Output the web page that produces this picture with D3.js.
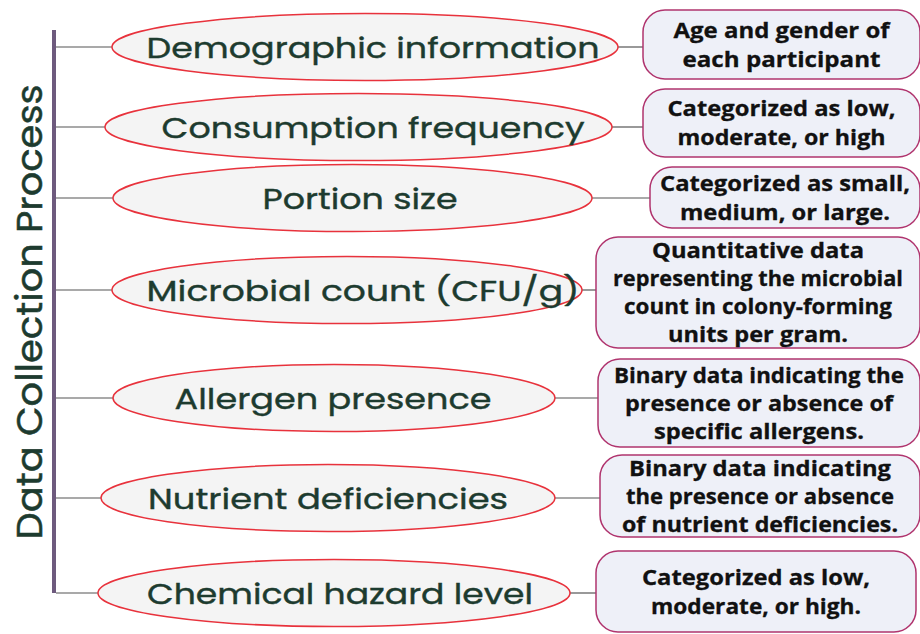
<!DOCTYPE html>
<html>
<head>
<meta charset="utf-8">
<script src="https://cdn.jsdelivr.net/npm/d3@7"></script>
<style>
  body { margin: 0; background: #fff; }
  svg { display: block; }
</style>
</head>
<body>
<svg id="chart"></svg>
<script>
// data
var title = 'Data Collection Process'
var categories = [
  'Demographic information',
  'Consumption frequency',
  'Portion size',
  'Microbial count (CFU/g)',
  'Allergen presence',
  'Nutrient deficiencies',
  'Chemical hazard level'
]
var descriptions = [
  ['Age and gender of', 'each participant'],
  ['Categorized as low,', 'moderate, or high'],
  ['Categorized as small,', 'medium, or large.'],
  ['Quantitative data', 'representing the microbial', 'count in colony-forming', 'units per gram.'],
  ['Binary data indicating the', 'presence or absence of', 'specific allergens.'],
  ['Binary data indicating', 'the presence or absence', 'of nutrient deficiencies.'],
  ['Categorized as low,', 'moderate, or high.']
]

// layout
var W = 920, H = 634
var rowY = [47, 127, 198, 290, 398, 498, 593]
var ell = [[112, 618], [105, 612], [113, 592], [112, 582], [113, 555], [101, 555], [98, 570]]
var ellRy = 33.5
var labelW = [453, 423, 195, 433, 317, 360, 386]
var labelCx = [373, 373, 360, 363, 333, 328, 340]
var box = [[643, 10, 920, 79], [643, 89, 920, 157], [650, 167, 920, 228], [596, 237, 920, 348],
  [598, 359, 920, 447], [600, 455, 920, 537], [596, 551, 916, 632]]
var descLineW = [[216, 198], [228, 208], [250, 210], [212, 290, 268, 180], [290, 268, 210], [262, 268, 276], [228, 210]]

var svg = d3.select('#chart').attr('width', W).attr('height', H)

var y = function(i) { return rowY[i] }

// spine
svg.append('line')
  .attr('x1', 54).attr('x2', 54)
  .attr('y1', 30).attr('y2', 593)
  .attr('stroke', '#6e5a7e').attr('stroke-width', 4)

svg.append('text')
  .attr('transform', 'translate(42,' + 312 + ')rotate(-90)')
  .attr('text-anchor', 'middle')
  .attr('font-family', 'Poppins, Inter, "DejaVu Sans", sans-serif')
  .attr('font-size', 35)
  .attr('fill', '#1d3b2f')
  .attr('stroke', '#1d3b2f').attr('stroke-width', 0.5)
  .attr('textLength', 455)
  .attr('lengthAdjust', 'spacingAndGlyphs')
  .text(title)

var rows = svg.selectAll('g.row')
  .data(categories)
  .join('g')
  .attr('class', 'row')

// left connectors
rows.append('line')
  .attr('x1', 56).attr('x2', function(d, i) { return ell[i][0] })
  .attr('y1', function(d, i) { return y(i) }).attr('y2', function(d, i) { return y(i) })
  .attr('stroke', '#555').attr('stroke-width', 1.2)

// right connectors
rows.append('line')
  .attr('x1', function(d, i) { return ell[i][1] }).attr('x2', function(d, i) { return box[i][0] })
  .attr('y1', function(d, i) { return y(i) }).attr('y2', function(d, i) { return y(i) })
  .attr('stroke', '#555').attr('stroke-width', 1.2)

rows.append('ellipse')
  .attr('cx', function(d, i) { return (ell[i][0] + ell[i][1]) / 2 })
  .attr('cy', function(d, i) { return y(i) })
  .attr('rx', function(d, i) { return (ell[i][1] - ell[i][0]) / 2 })
  .attr('ry', ellRy)
  .attr('fill', '#f4f4f4')
  .attr('stroke', '#e8323c').attr('stroke-width', 1.5)

rows.append('text')
  .attr('x', function(d, i) { return labelCx[i] })
  .attr('y', function(d, i) { return y(i) + 11 })
  .attr('text-anchor', 'middle')
  .attr('font-family', 'Poppins, Inter, "DejaVu Sans", sans-serif')
  .attr('font-size', 29)
  .attr('fill', '#1d3b2f')
  .attr('stroke', '#1d3b2f').attr('stroke-width', 0.4)
  .attr('textLength', function(d, i) { return labelW[i] })
  .attr('lengthAdjust', 'spacingAndGlyphs')
  .text(function(d) { return d })

rows.append('rect')
  .attr('x', function(d, i) { return box[i][0] })
  .attr('y', function(d, i) { return box[i][1] })
  .attr('width', function(d, i) { return box[i][2] - box[i][0] })
  .attr('height', function(d, i) { return box[i][3] - box[i][1] })
  .attr('rx', 22)
  .attr('fill', '#eef0f8')
  .attr('stroke', '#b0346e').attr('stroke-width', 1.5)

rows.each(function(d, i) {
  var lines = descriptions[i]
  var b = box[i]
  var cx = (b[0] + b[2]) / 2
  var lh = lines.length > 2 ? 28 : 29
  var cy = (b[1] + b[3]) / 2
  var top = cy - (lines.length - 1) * lh / 2
  d3.select(this).selectAll('text.desc')
    .data(lines)
    .join('text')
    .attr('class', 'desc')
    .attr('x', cx)
    .attr('y', function(l, j) { return top + j * lh + 7.5 })
    .attr('text-anchor', 'middle')
    .attr('font-family', '"Open Sans", sans-serif')
    .attr('font-weight', 700)
    .attr('font-size', 21)
    .attr('fill', '#111')
    .attr('stroke', '#111').attr('stroke-width', 0.3)
    .attr('textLength', function(l, j) { return descLineW[i][j] })
    .attr('lengthAdjust', 'spacingAndGlyphs')
    .text(function(l) { return l })
})
</script>
</body>
</html>
